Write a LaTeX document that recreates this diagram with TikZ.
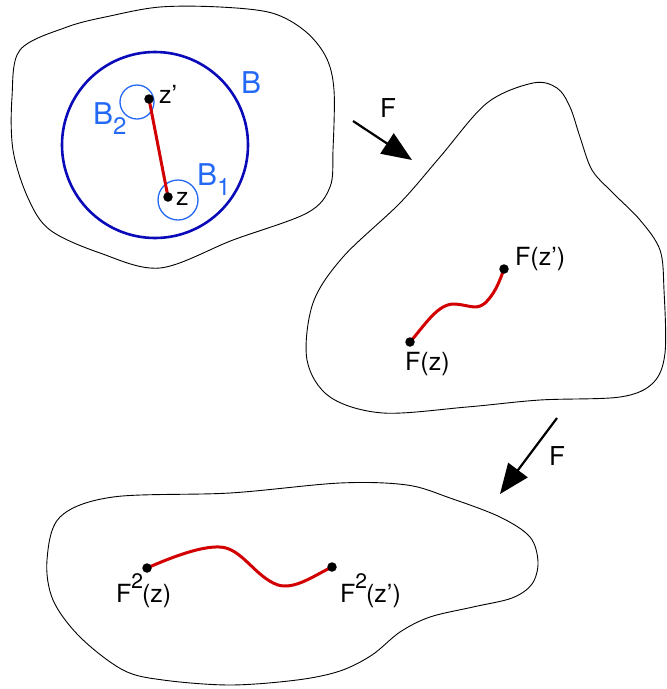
\documentclass[tikz,border=0pt]{standalone}
\usepackage{fontspec}
\setmainfont{TeX Gyre Heros}
\usetikzlibrary{arrows.meta}
\definecolor{bigblue}{RGB}{10,10,185}
\definecolor{lightblue}{RGB}{35,105,245}
\definecolor{curvered}{RGB}{210,0,0}
\newcommand\mysubsc[1]{\raisebox{-10pt}{\fontsize{24}{24}\selectfont #1}}
\newcommand\mysupsc[1]{\raisebox{14pt}{\fontsize{21}{21}\selectfont #1}\kern-1pt}
\tikzset{
  blob/.style={draw=black, line width=0.9pt},
  dotnode/.style={circle, fill=black, inner sep=0pt, minimum size=9.5pt},
  redline/.style={draw=curvered, line width=3pt},
  maparrow/.style={line width=2.2pt, -{Triangle[length=30pt,width=24pt]}},
  lbl/.style={inner sep=0pt, anchor=base west, font=\fontsize{25}{30}\selectfont},
  blbl/.style={inner sep=0pt, anchor=base west, text=lightblue, font=\fontsize{30}{36}\selectfont},
}
\begin{document}
\begin{tikzpicture}[x=1pt,y=-1pt]
\useasboundingbox (0,0) rectangle (667,689);
% top-left blob
\draw[blob] plot[smooth cycle, tension=0.55] coordinates {
 (160,7) (220,7) (272,13) (305,31) (326,57) (334,90) (333,150) (330,187) (307,213)
 (233,240) (160,268) (100,253) (50,230) (28,198) (13,150) (12,97) (20,50) (67,27) (110,16)};
% middle blob
\draw[blob] plot[smooth cycle, tension=0.55] coordinates {
 (533,83) (557,88) (570,107) (580,137) (592,170) (613,193) (640,220) (660,250)
 (664,290) (665,353) (653,383)
 (620,397) (540,400) (467,407) (383,413) (330,397) (307,360) (313,303) (343,257)
 (400,203) (440,157) (487,103)};
% bottom blob
\draw[blob] plot[smooth cycle, tension=0.55] coordinates {
 (47,560) (60,517) (113,497) (230,493) (340,483) (407,485) (450,498) (500,517)
 (530,537) (538,562) (532,584) (512,598) (473,607) (430,617) (400,632) (372,655)
 (340,671) (297,680) (230,685) (163,680) (123,670) (80,637) (53,600)};
% ball B and small balls
\node[circle, draw=bigblue, line width=2.6pt, minimum size=186pt, inner sep=0pt] (bigB) at (155,145) {};
\node[circle, draw=lightblue, line width=1.3pt, minimum size=34pt, inner sep=0pt] (ball2) at (137,102) {};
\node[circle, draw=lightblue, line width=1.3pt, minimum size=40pt, inner sep=0pt] (ball1) at (178,200) {};
% points
\coordinate (zp) at (149,99);
\coordinate (z) at (168,197);
\coordinate (fz) at (410,342);
\coordinate (fzp) at (504,269);
\coordinate (ffz) at (147,568);
\coordinate (ffzp) at (332,567);
% curves
\draw[redline] (zp) -- (z);
\draw[redline] (fz) .. controls (425,325) and (438,303) .. (455,304)
  .. controls (470,305) and (478,312) .. (488,300)
  .. controls (496,291) and (500,280) .. (fzp);
\draw[redline] (ffz) .. controls (170,558) and (200,546) .. (220,547)
  .. controls (242,548) and (255,577) .. (278,585)
  .. controls (295,590) and (315,575) .. (ffzp);
% dots
\node[dotnode] (zpdot) at (zp) {};
\node[dotnode] (zdot) at (z) {};
\node[dotnode] (fzdot) at (fz) {};
\node[dotnode] (fzpdot) at (fzp) {};
\node[dotnode] (ffzdot) at (ffz) {};
\node[dotnode] (ffzpdot) at (ffzp) {};
% labels
\node[lbl] (zplbl) at (159,103) {z’};
\node[lbl] (zlbl) at (176,205) {z};
\node[blbl] (Blbl) at (241,93) {B};
\node[blbl] (B2lbl) at (93,124) {B\mysubsc{2}};
\node[blbl] (B1lbl) at (197,185) {B\mysubsc{1}};
\node[lbl] (fzlbl) at (405,370) {F(z)};
\node[lbl] (fzplbl) at (515,265) {F(z’)};
\node[lbl] (ffzlbl) at (116,602) {F\mysupsc{2}(z)};
\node[lbl] (ffzplbl) at (340,602) {F\mysupsc{2}(z’)};
% maps
\coordinate (a1s) at (353,121);
\coordinate (a1e) at (412,160);
\draw[maparrow] (a1s) -- (a1e);
\node[lbl, font=\fontsize{26}{30}\selectfont] (F1) at (380,117) {F};
\coordinate (a2s) at (557,418);
\coordinate (a2e) at (500,494);
\draw[maparrow] (a2s) -- (a2e);
\node[lbl, font=\fontsize{26}{30}\selectfont] (F2) at (549,465) {F};
\end{tikzpicture}
\end{document}
